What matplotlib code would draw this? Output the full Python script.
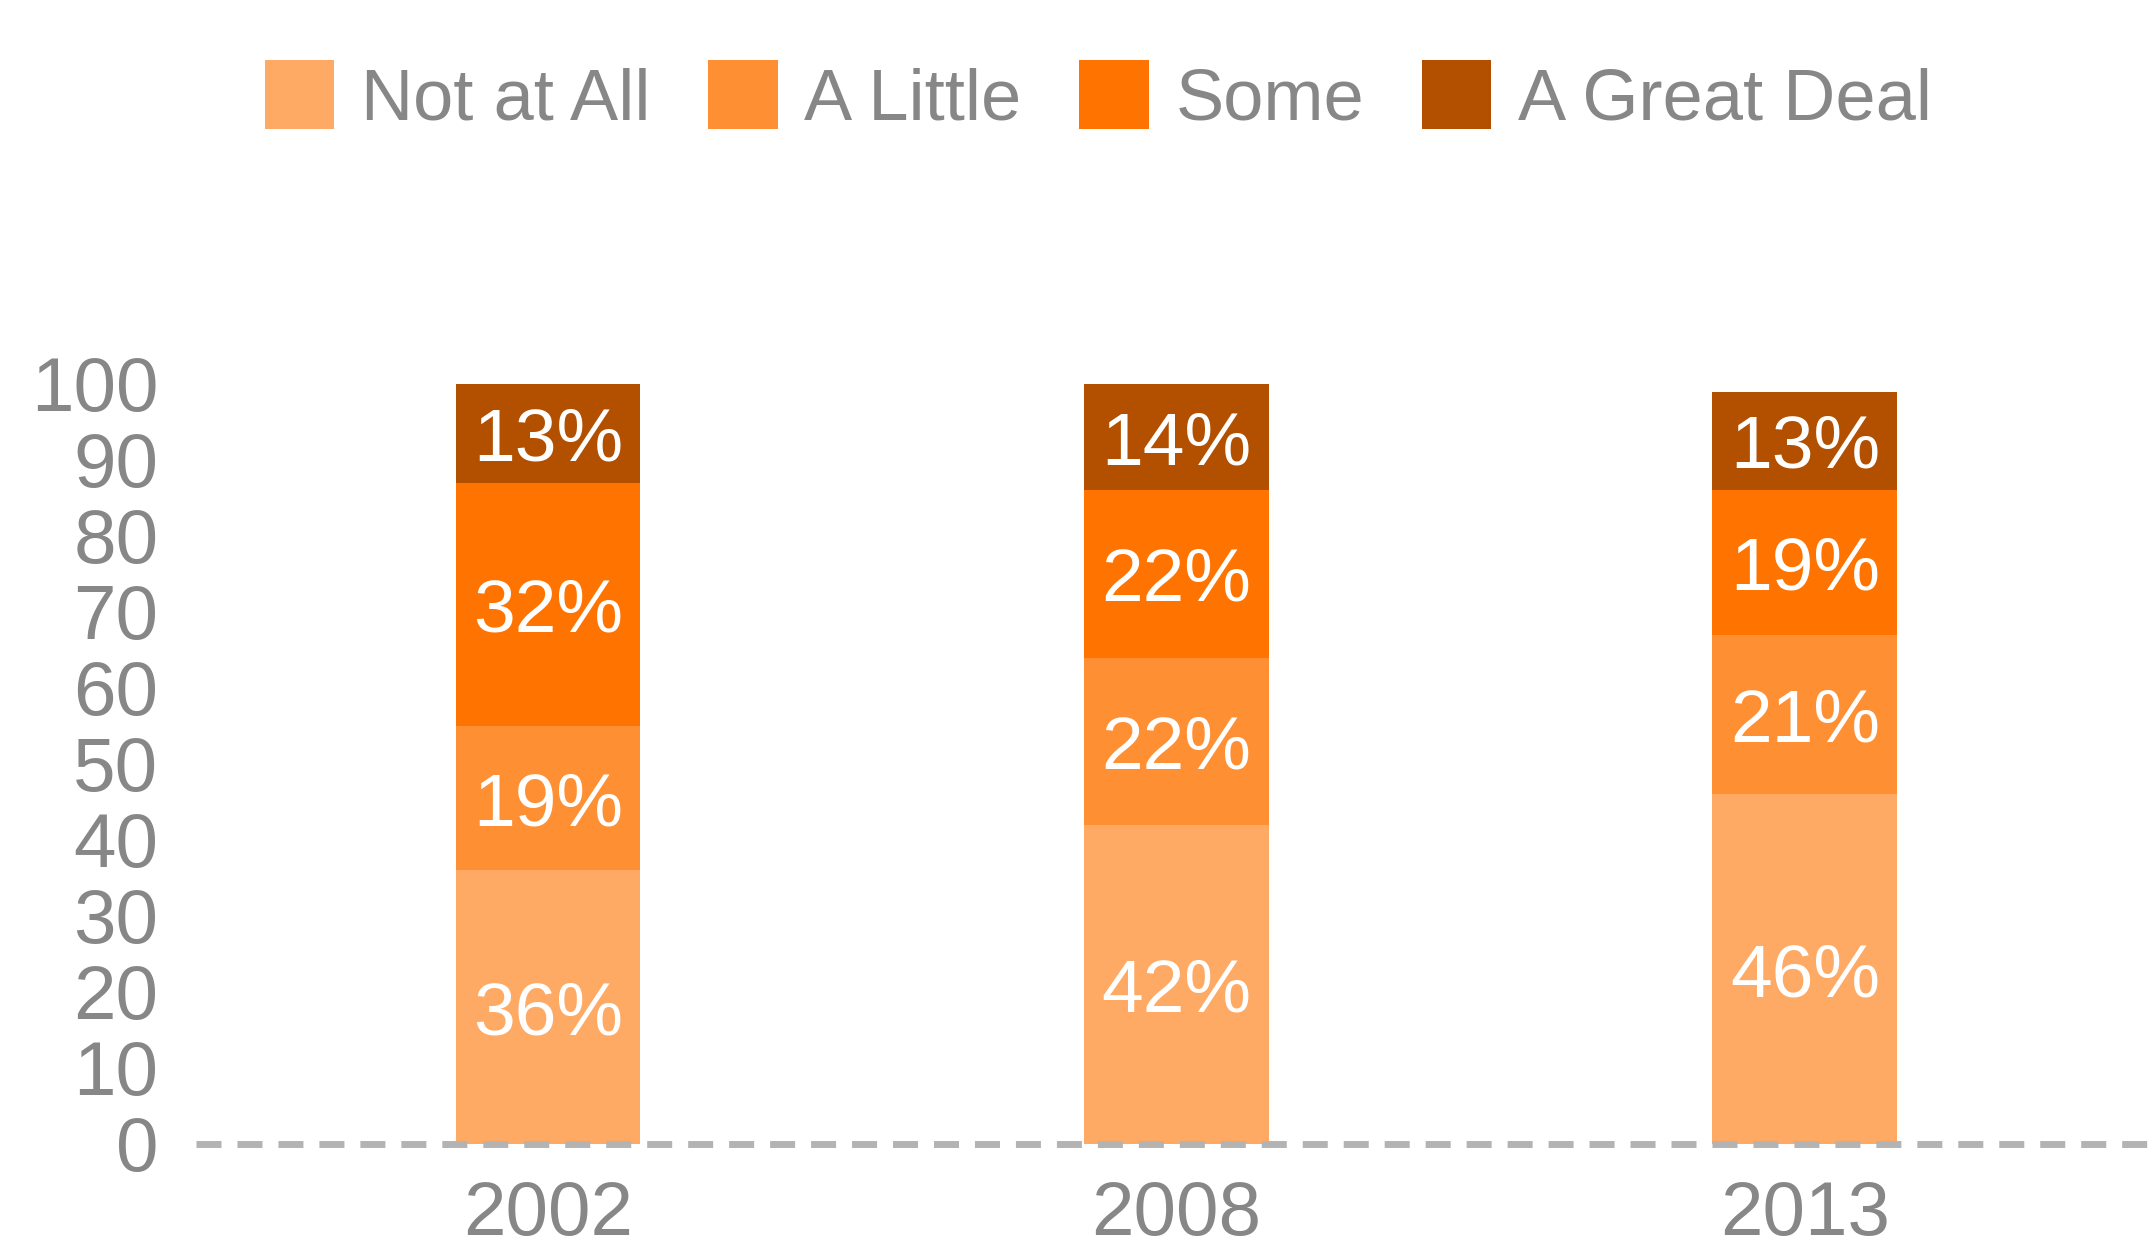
import numpy as np
import matplotlib
matplotlib.use("Agg")
import matplotlib.pyplot as plt

# datos
anios = ['2002', '2008', '2013']
series = ['Not at All', 'A Little', 'Some', 'A Great Deal']
not_at_all = [36, 42, 46]
a_little = [19, 22, 21]
some = [32, 22, 19]
great_deal = [13, 14, 13]
colores = ['#FFAA64', '#FF8F33', '#FF7400', '#B35000']

plt.rcParams['font.family'] = ['Liberation Sans', 'DejaVu Sans']
gris = '#878787'

fig = plt.figure(figsize=(21.53, 12.55), dpi=100)
ax = fig.add_axes([196/2153, 1-1144/1255, 1-196/2153, (1144-384)/1255])

x = np.arange(len(anios))
valores = [not_at_all, a_little, some, great_deal]
base = np.zeros(len(anios))
for nombre, vals, color in zip(series, valores, colores):
    vals = np.array(vals, dtype=float)
    ax.bar(x, vals, bottom=base, width=0.294, color=color, label=nombre, zorder=2)
    # etiquetas de porcentaje dentro de cada segmento
    for xi, b, v in zip(x, base, vals):
        ax.text(xi, b + v/2, '%d%%' % v, ha='center', va='center_baseline',
                color='white', fontsize=54, zorder=3)
    base = base + vals

ax.set_xlim(-0.56, 2.554)
ax.set_ylim(0, 100)
ax.set_yticks(range(0, 101, 10))
ax.set_xticks(x)
ax.set_xticklabels(anios)
ax.tick_params(axis='y', length=0, pad=27, labelsize=55, labelcolor=gris)
ax.tick_params(axis='x', length=0, pad=26, labelsize=55, labelcolor=gris)
for s in ax.spines.values():
    s.set_visible(False)

ax.axhline(0, color='#B3B3B3', linewidth=5, dashes=(3.6, 2.3), zorder=4, clip_on=False)

leg = fig.legend(loc='center left', bbox_to_anchor=(265/2153, 1-97/1255), ncol=4,
                 frameon=False, fontsize=52, handlelength=0.96, handleheight=1.1,
                 handletextpad=0.37, columnspacing=0.8, borderpad=0, borderaxespad=0)
for t in leg.get_texts():
    t.set_color(gris)

plt.savefig('out.png', dpi=100)
